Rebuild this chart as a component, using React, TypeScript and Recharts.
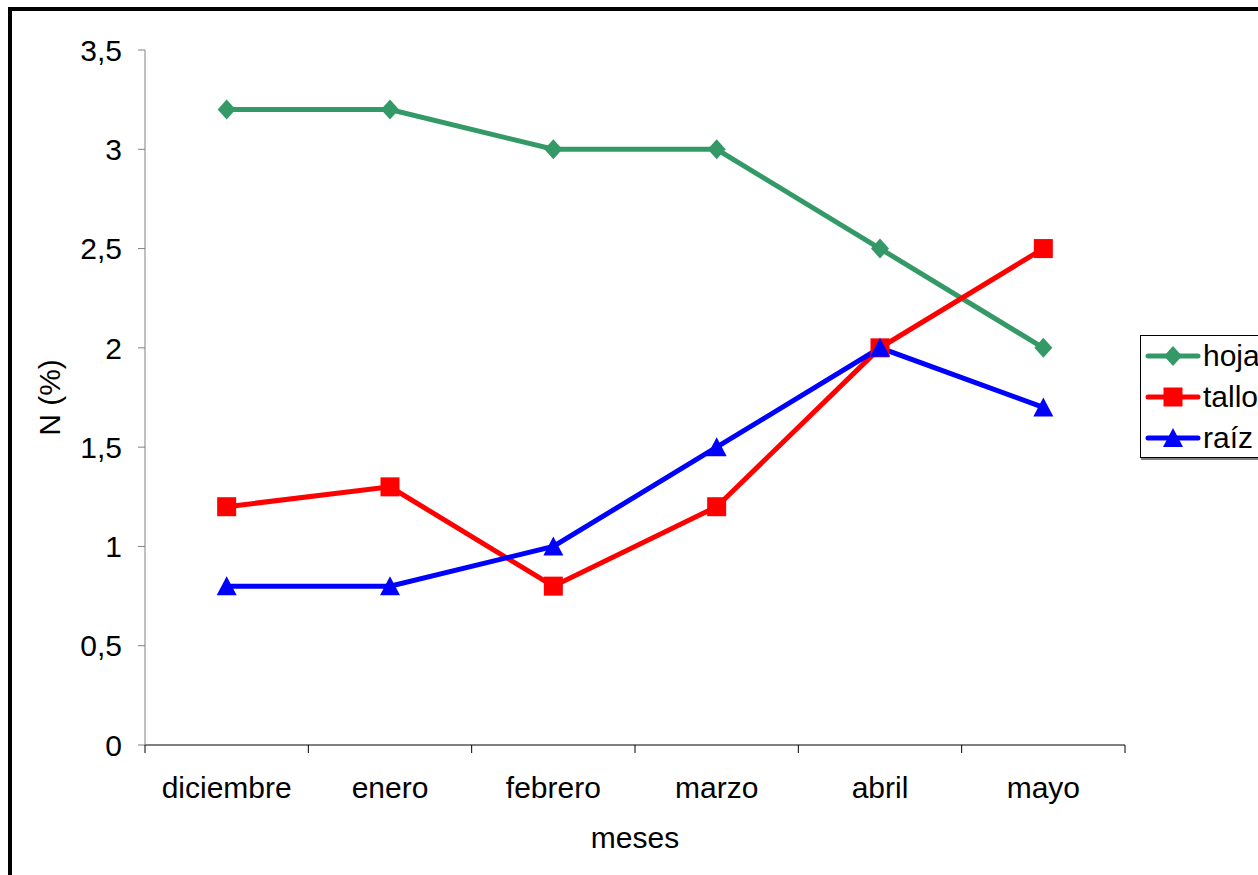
import React from "react";
import { Line, LineChart, XAxis, YAxis } from "recharts";

const meses = ["diciembre", "enero", "febrero", "marzo", "abril", "mayo"];
const hoja = [3.2, 3.2, 3.0, 3.0, 2.5, 2.0];
const tallo = [1.2, 1.3, 0.8, 1.2, 2.0, 2.5];
const raiz = [0.8, 0.8, 1.0, 1.5, 2.0, 1.7];
const yTicks = [0, 0.5, 1, 1.5, 2, 2.5, 3, 3.5];

const FONT = "'Liberation Sans', Arial, sans-serif";
const FS = 30;

// month i sits in the middle of band [i, i+1]
const data = meses.map((mes, i) => ({
  pos: i + 0.5,
  mes,
  hoja: hoja[i],
  tallo: tallo[i],
  raiz: raiz[i],
}));

// band edges get tick marks, band centres get the month names
const xTicks: number[] = [];
for (let i = 0; i <= meses.length * 2; i++) xTicks.push(i / 2);

const series = [
  { key: "hoja", name: "hoja", color: "#339966", shape: "diamond" },
  { key: "tallo", name: "tallo", color: "#FF0000", shape: "square" },
  { key: "raiz", name: "raíz", color: "#0000FF", shape: "triangle" },
];

const Marker = ({ cx, cy, shape, color }: any) => {
  if (cx == null || cy == null) return null;
  if (shape === "diamond") {
    return <polygon points={`${cx},${cy - 10} ${cx + 9},${cy} ${cx},${cy + 10} ${cx - 9},${cy}`} fill={color} />;
  }
  if (shape === "square") {
    const r = 9.5;
    return <rect x={cx - r} y={cy - r} width={r * 2} height={r * 2} fill={color} />;
  }
  return <polygon points={`${cx},${cy - 10} ${cx + 10},${cy + 9} ${cx - 10},${cy + 9}`} fill={color} />;
};

const XTick = ({ x, y, payload }: any) => {
  const v = payload.value as number;
  if (Number.isInteger(v)) {
    return <line x1={x} x2={x} y1={y} y2={y + 8} stroke="#000" strokeWidth={1} />;
  }
  const label = meses[Math.floor(v)];
  return (
    <text x={x} y={y + 53} textAnchor="middle" fontFamily={FONT} fontSize={FS} fill="#000">
      {label}
    </text>
  );
};

const LegendBox = () => (
  <div
    style={{
      position: "absolute",
      left: 1140,
      top: 335,
      width: 140,
      height: 123,
      border: "1px solid #000",
      boxShadow: "1px 2px 0 #808080",
      background: "#fff",
      boxSizing: "border-box",
    }}
  >
    <svg width={140} height={121} style={{ display: "block" }}>
      {series.map((s, i) => {
        const cy = 20 + i * 41;
        return (
          <g key={s.key}>
            <line x1={7} x2={57} y1={cy} y2={cy} stroke={s.color} strokeWidth={5} strokeLinecap="round" />
            <Marker cx={32} cy={cy} shape={s.shape} color={s.color} />
            <text x={62} y={cy + 10} fontFamily={FONT} fontSize={FS} fill="#000">
              {s.name}
            </text>
          </g>
        );
      })}
    </svg>
  </div>
);

export default function App() {
  return (
    <div
      style={{
        position: "fixed",
        left: 0,
        top: 0,
        width: 1258,
        height: 875,
        overflow: "hidden",
        background: "#fff",
      }}
    >
      <div
        style={{
          position: "absolute",
          left: 8,
          top: 7,
          width: 1300,
          height: 900,
          border: "4px solid #000",
        }}
      />
      <div style={{ position: "absolute", left: 0, top: 0 }}>
        <LineChart
          width={1258}
          height={875}
          data={data}
          margin={{ top: 50, right: 133, left: 85, bottom: 70 }}
        >
          <XAxis
            dataKey="pos"
            type="number"
            domain={[0, meses.length]}
            ticks={xTicks}
            interval={0}
            tick={<XTick />}
            tickLine={false}
            tickSize={0}
            tickMargin={0}
            axisLine={{ stroke: "#000", strokeWidth: 1 }}
            height={60}
            label={{
              value: "meses",
              position: "bottom",
              offset: 22,
              style: { fontFamily: FONT, fontSize: FS, fill: "#000" },
            }}
          />
          <YAxis
            domain={[0, 3.5]}
            ticks={yTicks}
            interval={0}
            width={60}
            tickSize={7}
            tickMargin={16}
            tickFormatter={(v: number) => String(v).replace(".", ",")}
            tick={{ fontFamily: FONT, fontSize: FS, fill: "#000" }}
            tickLine={{ stroke: "#808080" }}
            axisLine={{ stroke: "#808080", strokeWidth: 1 }}
            label={{
              value: "N (%)",
              angle: -90,
              position: "left",
              offset: 36,
              style: { fontFamily: FONT, fontSize: FS, fill: "#000", textAnchor: "middle" },
            }}
          />
          {series.map((s) => (
            <Line
              key={s.key}
              dataKey={s.key}
              name={s.name}
              stroke={s.color}
              strokeWidth={5}
              isAnimationActive={false}
              dot={(p: any) => <Marker key={`${s.key}-${p.index}`} cx={p.cx} cy={p.cy} shape={s.shape} color={s.color} />}
              activeDot={false}
            />
          ))}
        </LineChart>
      </div>
      <LegendBox />
    </div>
  );
}
